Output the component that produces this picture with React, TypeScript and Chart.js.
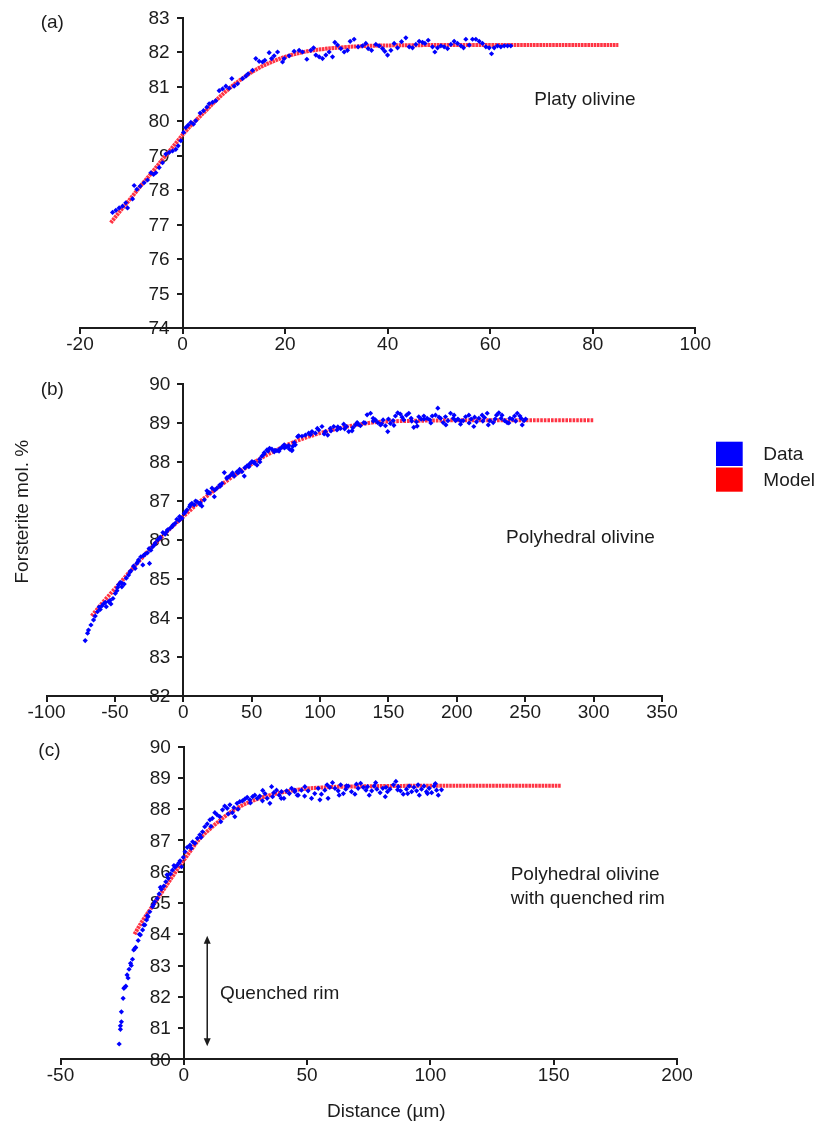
import { useEffect, useRef } from "react";
import { Chart, registerables } from "chart.js";

Chart.register(...registerables);

const FONT = "'Liberation Sans', Arial, Helvetica, sans-serif";
const INK = "#1c1c1c";
const DATA_BLUE = "#0000ff";
const MODEL_RED = "#ff3444";
const WIDTH = 817;

// ---------- (a) Platy olivine ----------
const platyXTicks = [-20, 0, 20, 40, 60, 80, 100];
const platyYTicks = [74, 75, 76, 77, 78, 79, 80, 81, 82, 83];
const platyData: [number, number][] = [
  [-13.65, 77.35], [-13.0, 77.41], [-12.36, 77.48], [-11.7, 77.53], [-11.06, 77.63], [-10.73, 77.48],
  [-9.75, 77.74], [-9.44, 78.13], [-8.91, 78.02], [-8.27, 78.11], [-7.49, 78.21], [-6.83, 78.29],
  [-6.18, 78.5], [-5.66, 78.45], [-5.21, 78.5], [-4.56, 78.65], [-3.9, 78.79], [-3.26, 79.04],
  [-2.61, 79.09], [-1.95, 79.13], [-1.31, 79.18], [-0.86, 79.28], [-0.33, 79.43], [0.19, 79.67],
  [0.64, 79.81], [1.09, 79.88], [1.62, 79.96], [2.14, 79.91], [2.59, 80.01], [3.43, 80.23],
  [4.09, 80.3], [4.74, 80.4], [5.19, 80.5], [5.85, 80.54], [6.49, 80.59], [7.14, 80.88],
  [7.8, 80.93], [8.44, 81.01], [9.09, 80.95], [9.61, 81.23], [10.06, 81.01], [10.73, 81.08],
  [11.7, 81.23], [12.34, 81.3], [12.79, 81.37], [13.65, 81.47], [14.29, 81.81], [14.94, 81.73],
  [15.6, 81.71], [16.05, 81.76], [16.89, 81.98], [17.36, 81.81], [17.86, 81.89], [18.53, 82.0],
  [19.5, 81.71], [19.82, 81.81], [20.79, 81.89], [21.76, 82.02], [22.74, 82.05], [23.4, 82.0],
  [24.24, 81.79], [25.02, 82.05], [25.55, 82.12], [26.0, 81.91], [26.64, 81.86], [27.3, 81.81],
  [27.95, 81.91], [28.59, 82.0], [29.25, 81.86], [29.7, 82.28], [30.22, 82.2], [30.87, 82.1],
  [31.52, 82.0], [32.17, 82.05], [32.69, 82.31], [33.46, 82.37], [34.24, 82.15], [35.1, 82.18],
  [35.74, 82.25], [36.2, 82.1], [36.86, 82.05], [37.7, 82.22], [38.34, 82.18], [39.0, 82.1],
  [39.45, 82.02], [39.98, 81.91], [40.63, 82.05], [41.27, 82.25], [41.93, 82.12], [42.71, 82.3],
  [43.55, 82.41], [44.2, 82.15], [44.85, 82.12], [45.5, 82.22], [46.15, 82.31], [46.8, 82.28],
  [47.26, 82.25], [47.91, 82.34], [48.75, 82.15], [49.21, 82.0], [49.73, 82.12], [50.38, 82.18],
  [51.02, 82.15], [51.68, 82.1], [52.33, 82.22], [52.97, 82.31], [53.63, 82.25], [54.28, 82.18],
  [54.8, 82.12], [55.25, 82.37], [55.9, 82.2], [56.55, 82.37], [57.2, 82.37], [57.85, 82.31],
  [58.5, 82.25], [59.15, 82.15], [59.8, 82.12], [60.26, 81.95], [60.78, 82.12], [61.43, 82.18],
  [62.08, 82.15], [62.73, 82.18], [63.38, 82.18], [64.02, 82.18],
];
const platyModel: [number, number][] = [
  [-14, 77.05], [-12, 77.42], [-10, 77.78], [-8, 78.15], [-6, 78.5], [-4, 78.87], [-2, 79.23],
  [0, 79.6], [2, 79.93], [4, 80.22], [6, 80.52], [8, 80.8], [10, 81.05], [12, 81.27], [14, 81.46],
  [16, 81.62], [18, 81.75], [20, 81.86], [23, 81.98], [26, 82.06], [30, 82.12], [35, 82.17],
  [40, 82.19], [50, 82.2], [60, 82.2], [70, 82.2], [85, 82.2],
];

// ---------- (b) Polyhedral olivine ----------
const polyXTicks = [-100, -50, 0, 50, 100, 150, 200, 250, 300, 350];
const polyYTicks = [82, 83, 84, 85, 86, 87, 88, 89, 90];
const polyData: [number, number][] = [
  [-71.7, 83.42], [-70.0, 83.61], [-69.3, 83.69], [-67.5, 83.82], [-65.6, 83.95], [-64.4, 84.05],
  [-62.7, 84.16], [-61.5, 84.28], [-60.7, 84.22], [-59.5, 84.31], [-58.3, 84.36], [-57, 84.4],
  [-56.3, 84.29], [-54.6, 84.42], [-53.5, 84.45], [-52.9, 84.36], [-51.4, 84.5], [-49.7, 84.63],
  [-48.5, 84.7], [-48, 84.78], [-47.3, 84.85], [-46.1, 84.91], [-45, 84.9], [-44.9, 84.8],
  [-43.2, 84.87], [-41.7, 85.02], [-40.0, 85.1], [-39, 85.18], [-38.3, 85.21], [-36.4, 85.33],
  [-35.2, 85.27], [-34.0, 85.4], [-33, 85.45], [-32.7, 85.49], [-31.0, 85.57], [-29.6, 85.36],
  [-29, 85.6], [-27.9, 85.64], [-26.2, 85.67], [-25, 85.78], [-24.7, 85.4], [-23.7, 85.74],
  [-22.3, 85.83], [-21, 85.88], [-20.5, 85.92], [-18.8, 86.0], [-17, 86.05], [-16.9, 86.07],
  [-14.9, 86.19], [-13.2, 86.15], [-12, 86.22], [-11.5, 86.26], [-9.6, 86.3], [-8, 86.35],
  [-7.6, 86.38], [-5.9, 86.43], [-4.7, 86.53], [-3, 86.5], [-2.7, 86.6], [-1.0, 86.56],
  [0.7, 86.68], [1.5, 86.72], [2.7, 86.77], [4.6, 86.85], [5, 86.9], [6.3, 86.94], [8.0, 86.9],
  [9, 87.0], [10.0, 86.98], [11.9, 86.92], [12.5, 86.95], [13.6, 86.87], [15.4, 87.03],
  [17.3, 87.26], [18, 87.2], [19.3, 87.21], [21.0, 87.33], [22.7, 87.11], [23, 87.28],
  [24.6, 87.33], [26.6, 87.41], [27, 87.38], [28.3, 87.45], [30.0, 87.73], [31.9, 87.58],
  [32, 87.6], [33.9, 87.64], [35.6, 87.69], [36, 87.72], [37.3, 87.64], [39.3, 87.75],
  [40, 87.72], [41.2, 87.81], [42.9, 87.75], [44.6, 87.64], [45, 87.85], [46.6, 87.9],
  [48, 87.88], [48.5, 87.95], [50.2, 88.01], [51.9, 87.97], [52, 88.0], [53.9, 87.92],
  [55.8, 88.07], [56, 88.0], [57.5, 88.15], [59, 88.2], [59.2, 88.24], [61.2, 88.31],
  [62, 88.28], [63.1, 88.35], [64.8, 88.33], [66.5, 88.26], [67, 88.3], [68.5, 88.29],
  [70, 88.28], [70.4, 88.33], [72.1, 88.38], [73.8, 88.44], [74, 88.36], [75.8, 88.39],
  [77, 88.42], [77.7, 88.33], [79.4, 88.29], [79.5, 88.31], [80, 88.4], [81.1, 88.5],
  [81.9, 88.44], [83.6, 88.65], [84.4, 88.67], [86.8, 88.66], [89.3, 88.69], [91.7, 88.74],
  [93, 88.7], [94.1, 88.78], [96.6, 88.74], [98, 88.86], [99.0, 88.82], [101.4, 88.91],
  [103, 88.72], [103.9, 88.78], [105.6, 88.69], [107.5, 88.86], [108, 88.8], [110.0, 88.91],
  [112.4, 88.82], [113, 88.9], [114.9, 88.86], [117.3, 88.97], [118, 88.85], [119.3, 88.91],
  [121.0, 88.78], [123.4, 88.8], [124, 88.88], [125.9, 88.95], [127.1, 89.01], [128, 88.97],
  [129.5, 88.93], [132.0, 89.01], [133, 89.0], [134.4, 89.21], [136.9, 89.25], [138.8, 89.12],
  [139, 89.05], [140.5, 89.08], [142.2, 89.01], [144.2, 88.95], [145, 88.98], [146.1, 89.08],
  [147.8, 88.93], [149.5, 88.78], [150, 89.1], [151.4, 88.99], [153.4, 89.06], [154, 88.94],
  [155.1, 89.18], [156.8, 89.26], [158.7, 89.23], [160, 89.15], [161.2, 89.08], [163.2, 89.2],
  [164.9, 89.25], [166.6, 89.12], [167, 89.05], [168.5, 88.89], [170.5, 89.03], [171, 88.92],
  [172.2, 89.16], [173.9, 89.1], [175.9, 89.18], [176, 89.1], [178.3, 89.12], [180.3, 89.08],
  [181, 89.0], [182.0, 89.18], [184.4, 89.2], [186.1, 89.38], [187, 89.15], [188.1, 89.12],
  [190.0, 89.01], [191.7, 89.16], [192, 88.95], [193.5, 89.06], [195.4, 89.25], [197.4, 89.12],
  [198, 89.2], [199.1, 89.06], [200.8, 89.1], [202.7, 88.97], [203, 89.05], [204.7, 89.06],
  [206.4, 89.16], [208.8, 89.2], [209, 89.0], [210.5, 89.1], [212.4, 88.91], [213, 89.15],
  [214.4, 89.03], [216.1, 89.12], [218.5, 89.2], [219, 89.05], [220.2, 89.14], [222.2, 89.25],
  [223, 88.95], [224.1, 89.06], [226.6, 89.01], [228, 89.1], [229.0, 89.2], [230.7, 89.26],
  [232.4, 89.12], [233, 89.2], [234.9, 89.06], [236.8, 89.01], [238, 89.0], [238.8, 89.12],
  [240.5, 89.1], [242.2, 89.18], [243, 89.05], [244.2, 89.25], [246.1, 89.18], [247, 89.12],
  [247.8, 88.95], [249.1, 89.06], [250.3, 89.1],
];
const polyModel: [number, number][] = [
  [-67, 84.05], [-60, 84.35], [-50, 84.75], [-40, 85.15], [-30, 85.55], [-20, 85.93], [-10, 86.28],
  [0, 86.6], [10, 86.92], [20, 87.2], [30, 87.47], [40, 87.72], [50, 87.95], [60, 88.16],
  [70, 88.34], [80, 88.5], [90, 88.63], [100, 88.74], [110, 88.83], [120, 88.91], [130, 88.97],
  [140, 89.02], [150, 89.04], [175, 89.06], [200, 89.07], [250, 89.07], [300, 89.07],
];

// ---------- (c) Polyhedral olivine with quenched rim ----------
const rimXTicks = [-50, 0, 50, 100, 150, 200];
const rimYTicks = [80, 81, 82, 83, 84, 85, 86, 87, 88, 89, 90];
const rimData: [number, number][] = [
  [-26.2, 80.49], [-25.7, 80.96], [-25.7, 81.07], [-25.3, 81.2], [-25.3, 81.52], [-24.6, 81.95],
  [-24.3, 82.27], [-24, 82.3], [-23.5, 82.34], [-23.0, 82.7], [-22.6, 82.6], [-22.2, 82.88],
  [-21.6, 83.07], [-21.3, 83.0], [-20.8, 83.2], [-20.3, 83.5], [-19.8, 83.55], [-19.5, 83.58],
  [-18.5, 83.8], [-18, 84.0], [-17.6, 83.98], [-16.7, 84.14], [-16.2, 84.3], [-15.8, 84.3],
  [-15.1, 84.46], [-14.8, 84.6], [-14.5, 84.56], [-13.8, 84.72], [-12.7, 84.88], [-12.3, 84.95],
  [-11.8, 85.04], [-10.8, 85.15], [-10.0, 85.29], [-9.5, 85.5], [-9.1, 85.44], [-8.1, 85.54],
  [-7.3, 85.68], [-6.8, 85.9], [-6.3, 85.79], [-5.4, 85.93], [-4.6, 86.05], [-4, 86.2],
  [-3.6, 86.14], [-2.7, 86.21], [-1.9, 86.29], [-1.5, 86.35], [-0.9, 86.16], [-0.2, 86.46],
  [0.5, 86.64], [1.4, 86.78], [2.5, 86.85], [3, 86.75], [3.6, 86.96], [4.5, 86.91], [5.5, 87.07],
  [6.5, 87.18], [7, 87.1], [7.6, 87.28], [8.5, 87.44], [9.5, 87.53], [10.6, 87.66], [11, 87.45],
  [11.6, 87.71], [12.6, 87.89], [13.5, 87.82], [14.6, 87.76], [15, 87.6], [15.7, 87.98],
  [16.6, 88.1], [17.6, 88.03], [18, 87.85], [18.7, 88.14], [19.7, 87.89], [20.3, 88.05],
  [20.7, 87.76], [21.6, 88.19], [22, 88.0], [22.7, 88.24], [23.8, 88.27], [24.7, 88.32],
  [25.7, 88.38], [26.8, 88.3], [27, 88.2], [27.9, 88.4], [28.8, 88.45], [29.8, 88.35],
  [30.8, 88.42], [31.9, 88.27], [32, 88.6], [32.9, 88.5], [33.8, 88.35], [34.9, 88.19],
  [35.6, 88.72], [36, 88.4], [36.5, 88.53], [37.6, 88.61], [38.7, 88.45], [39.5, 88.35],
  [39.6, 88.56], [40.6, 88.35], [41.7, 88.59], [42.8, 88.5], [43.7, 88.67], [45.0, 88.61],
  [45.0, 88.56], [46.0, 88.45], [46.4, 88.45], [47.7, 88.61], [49, 88.42], [49.1, 88.72],
  [50.4, 88.59], [51.8, 88.35], [53.1, 88.5], [54.5, 88.67], [55.2, 88.3], [55.8, 88.48],
  [57.2, 88.61], [58.1, 88.78], [58.5, 88.35], [59.2, 88.7], [60.3, 88.85], [61.3, 88.67],
  [62.6, 88.59], [63, 88.45], [63.6, 88.78], [64.7, 88.5], [65.7, 88.64], [66, 88.75],
  [66.7, 88.74], [68.0, 88.56], [69.4, 88.48], [70, 88.8], [70.7, 88.67], [71.7, 88.83],
  [72.8, 88.7], [73.9, 88.61], [74.5, 88.72], [75.2, 88.45], [76.2, 88.59], [77.2, 88.74],
  [77.8, 88.85], [78.3, 88.64], [79.6, 88.53], [80.7, 88.67], [81.7, 88.4], [82, 88.7],
  [82.6, 88.56], [83.6, 88.64], [85.0, 88.78], [86.0, 88.89], [86.7, 88.62], [87.0, 88.72],
  [87.9, 88.59], [89.0, 88.48], [90.3, 88.64], [90.8, 88.5], [91.4, 88.74], [92.4, 88.56],
  [93.3, 88.7], [94.4, 88.59], [95, 88.78], [95.5, 88.45], [96.4, 88.64], [97.4, 88.74],
  [98.4, 88.56], [98.8, 88.5], [99.5, 88.67], [100.5, 88.53], [101.5, 88.74], [102, 88.82],
  [102.5, 88.61], [103.2, 88.45], [104.5, 88.62],
];
const rimModel: [number, number][] = [
  [-20, 84.0], [-17, 84.4], [-14, 84.75], [-11, 85.1], [-8, 85.45], [-5, 85.8], [-2, 86.15],
  [0, 86.37], [3, 86.7], [6, 87.02], [10, 87.33], [14, 87.6], [18, 87.85], [22, 88.05],
  [26, 88.21], [30, 88.33], [35, 88.45], [40, 88.54], [45, 88.61], [50, 88.66], [60, 88.71],
  [70, 88.73], [80, 88.74], [100, 88.75], [125, 88.75], [153, 88.75],
];

// Double-headed arrow marking the quenched rim, in data units of panel (c)
const rimArrow = { x: 9.5, from: 83.95, to: 80.42 };

type Pad = { left: number; right: number; top: number; bottom: number };
type Note = { text: string; x: number; y: number; align?: CanvasTextAlign; vertical?: boolean };

const TICK_FONT = `19px ${FONT}`;

function axisOptions(ticks: number[], position: Record<string, number>, showLabels: boolean) {
  return {
    type: "linear" as const,
    min: ticks[0],
    max: ticks[ticks.length - 1],
    position,
    afterBuildTicks: (scale: any) => {
      scale.ticks = ticks.map((value) => ({ value }));
    },
    grid: {
      display: true,
      drawOnChartArea: false,
      drawTicks: true,
      tickLength: 5,
      color: INK,
      lineWidth: 2,
    },
    border: { display: true, color: INK, width: 2 },
    ticks: {
      display: showLabels,
      color: INK,
      font: { family: FONT, size: 19 },
      padding: 0,
      autoSkip: false,
      maxRotation: 0,
    },
  };
}

function buildConfig(opts: {
  data: [number, number][];
  model: [number, number][];
  xTicks: number[];
  yTicks: number[];
  pad: Pad;
  dash: number[];
  notes: Note[];
  extra?: (chart: Chart) => void;
}): any {
  // The y axis sits on x = 0, so its labels are set just left of its tick marks
  // and beneath the data, the way the markers overlap them.
  const yLabelsPlugin = {
    id: "centredYLabels",
    beforeDatasetsDraw(chart: Chart) {
      const ctx = chart.ctx;
      const axisX = chart.scales.x.getPixelForValue(0);
      ctx.save();
      ctx.fillStyle = INK;
      ctx.font = TICK_FONT;
      ctx.textAlign = "right";
      ctx.textBaseline = "middle";
      for (const v of opts.yTicks) {
        ctx.fillText(String(v), axisX - 13, chart.scales.y.getPixelForValue(v) + 1);
      }
      ctx.restore();
    },
  };

  const notesPlugin = {
    id: "panelNotes",
    afterDraw(chart: Chart) {
      const ctx = chart.ctx;
      ctx.save();
      ctx.fillStyle = INK;
      ctx.font = TICK_FONT;
      ctx.textBaseline = "alphabetic";
      for (const n of opts.notes) {
        ctx.textAlign = n.align ?? "left";
        if (n.vertical) {
          ctx.save();
          ctx.translate(n.x, n.y);
          ctx.rotate(-Math.PI / 2);
          ctx.fillText(n.text, 0, 0);
          ctx.restore();
        } else {
          ctx.fillText(n.text, n.x, n.y);
        }
      }
      opts.extra?.(chart);
      ctx.restore();
    },
  };

  return {
    type: "scatter",
    data: {
      datasets: [
        {
          label: "Data",
          data: opts.data.map(([x, y]) => ({ x, y })),
          pointStyle: "rectRot",
          pointRadius: 2.6,
          borderWidth: 0,
          backgroundColor: DATA_BLUE,
          order: 0,
        },
        {
          label: "Model",
          data: opts.model.map(([x, y]) => ({ x, y })),
          showLine: true,
          pointRadius: 0,
          borderColor: MODEL_RED,
          borderWidth: 4,
          borderDash: opts.dash,
          cubicInterpolationMode: "monotone",
          order: 1,
        },
      ],
    },
    options: {
      animation: false,
      responsive: false,
      devicePixelRatio: 1,
      events: [],
      layout: { padding: opts.pad },
      plugins: { legend: { display: false }, tooltip: { enabled: false } },
      scales: {
        x: axisOptions(opts.xTicks, { y: opts.yTicks[0] }, true),
        y: axisOptions(opts.yTicks, { x: 0 }, false),
      },
    },
    plugins: [yLabelsPlugin, notesPlugin],
  };
}

function drawLegend(chart: Chart) {
  const ctx = chart.ctx;
  ctx.fillStyle = DATA_BLUE;
  ctx.fillRect(716, 76.7, 26.7, 24.3);
  ctx.fillStyle = "#ff0000";
  ctx.fillRect(716, 102.5, 26.7, 24.2);
  ctx.fillStyle = INK;
  ctx.textAlign = "left";
  ctx.fillText("Data", 763.3, 94.6);
  ctx.fillText("Model", 763.3, 121.3);
}

function drawRimArrow(chart: Chart) {
  const ctx = chart.ctx;
  const x = chart.scales.x.getPixelForValue(rimArrow.x);
  const yTop = chart.scales.y.getPixelForValue(rimArrow.from);
  const yBot = chart.scales.y.getPixelForValue(rimArrow.to);
  ctx.strokeStyle = INK;
  ctx.fillStyle = INK;
  ctx.lineWidth = 1.5;
  ctx.beginPath();
  ctx.moveTo(x, yTop + 6);
  ctx.lineTo(x, yBot - 6);
  ctx.stroke();
  ctx.beginPath();
  ctx.moveTo(x, yTop);
  ctx.lineTo(x - 3.5, yTop + 8);
  ctx.lineTo(x + 3.5, yTop + 8);
  ctx.closePath();
  ctx.fill();
  ctx.beginPath();
  ctx.moveTo(x, yBot);
  ctx.lineTo(x - 3.5, yBot - 8);
  ctx.lineTo(x + 3.5, yBot - 8);
  ctx.closePath();
  ctx.fill();
}

const panels = [
  {
    top: 0,
    height: 365,
    config: buildConfig({
      data: platyData,
      model: platyModel,
      xTicks: platyXTicks,
      yTicks: platyYTicks,
      pad: { left: 80, right: 121.7, top: 17.5, bottom: 37 },
      dash: [2.6, 0.6],
      notes: [
        { text: "(a)", x: 40.7, y: 27.5 },
        { text: "Platy olivine", x: 534.3, y: 105 },
      ],
    }),
  },
  {
    top: 365,
    height: 365,
    config: buildConfig({
      data: polyData,
      model: polyModel,
      xTicks: polyXTicks,
      yTicks: polyYTicks,
      pad: { left: 46.5, right: 155, top: 19, bottom: 34 },
      dash: [2.6, 1.0],
      notes: [
        { text: "(b)", x: 40.7, y: 30.3 },
        { text: "Polyhedral olivine", x: 506, y: 177.5 },
        { text: "Forsterite mol. %", x: 28.3, y: 146.7, align: "center", vertical: true },
      ],
      extra: drawLegend,
    }),
  },
  {
    top: 730,
    height: 392,
    config: buildConfig({
      data: rimData,
      model: rimModel,
      xTicks: rimXTicks,
      yTicks: rimYTicks,
      pad: { left: 60.5, right: 140, top: 16.7, bottom: 62.7 },
      dash: [2.6, 0.7],
      notes: [
        { text: "(c)", x: 38.3, y: 26 },
        { text: "Polyhedral olivine", x: 510.7, y: 150.3 },
        { text: "with quenched rim", x: 510.7, y: 173.6 },
        { text: "Quenched rim", x: 220, y: 268.6 },
        { text: "Distance (µm)", x: 386.3, y: 387, align: "center" },
      ],
      extra: drawRimArrow,
    }),
  },
];

function Panel({ top, height, config }: { top: number; height: number; config: any }) {
  const ref = useRef<HTMLCanvasElement>(null);
  useEffect(() => {
    const chart = new Chart(ref.current as HTMLCanvasElement, config);
    return () => chart.destroy();
  }, [config]);
  return (
    <canvas
      ref={ref}
      width={WIDTH}
      height={height}
      style={{ position: "absolute", left: 0, top, width: WIDTH, height, display: "block" }}
    />
  );
}

export default function App() {
  return (
    <div style={{ position: "absolute", left: 0, top: 0, width: WIDTH, height: 1122, background: "#fff" }}>
      {panels.map((p, i) => (
        <Panel key={i} top={p.top} height={p.height} config={p.config} />
      ))}
    </div>
  );
}
